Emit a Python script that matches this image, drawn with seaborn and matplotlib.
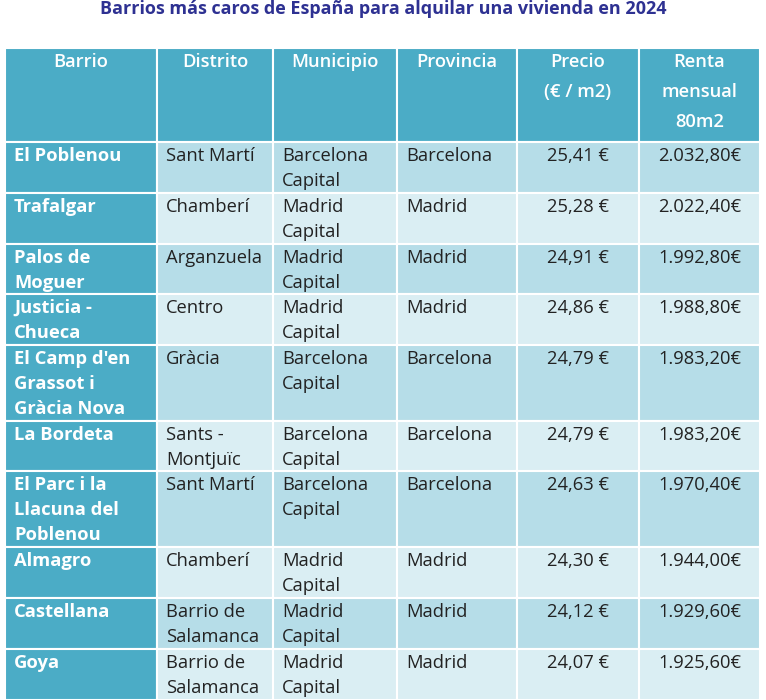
import matplotlib
matplotlib.use("Agg")
import matplotlib.pyplot as plt
import seaborn as sns
from matplotlib.patches import Rectangle

sns.set_theme(style="white")
plt.rcParams['font.family'] = ['Open Sans', 'DejaVu Sans']

title = "Barrios más caros de España para alquilar una vivienda en 2024"
headers = ["Barrio", "Distrito", "Municipio", "Provincia", "Precio\n(€ / m2)", "Renta\nmensual\n80m2"]
barrios = ["El Poblenou", "Trafalgar", "Palos de\nMoguer", "Justicia -\nChueca", "El Camp d'en\nGrassot i\nGràcia Nova",
           "La Bordeta", "El Parc i la\nLlacuna del\nPoblenou", "Almagro", "Castellana", "Goya"]
distritos = ["Sant Martí", "Chamberí", "Arganzuela", "Centro", "Gràcia", "Sants -\nMontjuïc", "Sant Martí",
             "Chamberí", "Barrio de\nSalamanca", "Barrio de\nSalamanca"]
municipios = ["Barcelona\nCapital", "Madrid\nCapital", "Madrid\nCapital", "Madrid\nCapital", "Barcelona\nCapital",
              "Barcelona\nCapital", "Barcelona\nCapital", "Madrid\nCapital", "Madrid\nCapital", "Madrid\nCapital"]
provincias = ["Barcelona", "Madrid", "Madrid", "Madrid", "Barcelona", "Barcelona", "Barcelona", "Madrid", "Madrid", "Madrid"]
precios = ["25,41 €", "25,28 €", "24,91 €", "24,86 €", "24,79 €", "24,79 €", "24,63 €", "24,30 €", "24,12 €", "24,07 €"]
rentas = ["2.032,80€", "2.022,40€", "1.992,80€", "1.988,80€", "1.983,20€", "1.983,20€", "1.970,40€", "1.944,00€", "1.929,60€", "1.925,60€"]

W, H = 766, 700
fig = plt.figure(figsize=(W/100, H/100), dpi=100)
ax = fig.add_axes([0, 0, 1, 1])
ax.set_xlim(0, W); ax.set_ylim(H, 0); ax.axis('off')

xs = [5, 157, 273, 397, 517, 639, 760]
ys = [48, 142, 193, 244, 294, 345, 421, 471, 547, 598, 649, 700]
dark = "#4BACC6"; c1 = "#B6DDE8"; c2 = "#DAEEF3"
fs = 13.2

ax.text(W/2, 9, title, ha='center', va='center', color="#2E3192", fontsize=13, fontweight='bold')

for j in range(6):
    ax.add_patch(Rectangle((xs[j], ys[0]), xs[j+1]-xs[j], ys[1]-ys[0], fc=dark, ec='white', lw=1.5))
    ax.text((xs[j]+xs[j+1])/2, ys[0]+5, headers[j], ha='center', va='top', color='white',
            fontsize=fs, fontweight='semibold', linespacing=1.85)

cols = [barrios, distritos, municipios, provincias, precios, rentas]
for i in range(10):
    y0, y1 = ys[i+1], ys[i+2]
    for j in range(6):
        fc = dark if j == 0 else (c1 if i % 2 == 0 else c2)
        ax.add_patch(Rectangle((xs[j], y0), xs[j+1]-xs[j], y1-y0, fc=fc, ec='white', lw=1.5))
        txt = cols[j][i]
        kw = dict(va='top', fontsize=fs, linespacing=1.5)
        if j == 0:
            ax.text(xs[j]+9, y0+5, txt, ha='left', color='white', fontweight='bold', **kw)
        elif j >= 4:
            ax.text((xs[j]+xs[j+1])/2, y0+5, txt, ha='center', color='#222222', **kw)
        else:
            ax.text(xs[j]+9, y0+5, txt, ha='left', color='#222222', **kw)

fig.savefig("out.png", dpi=100, facecolor='white')
